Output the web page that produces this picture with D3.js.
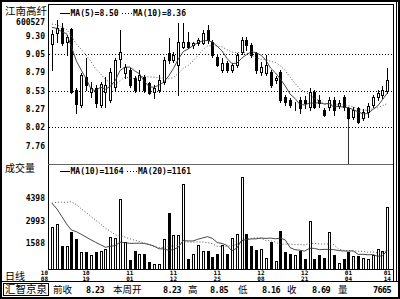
<!DOCTYPE html>
<html>
<head>
<meta charset="utf-8">
<script src="https://cdn.jsdelivr.net/npm/d3@7"></script>
<style>
  body { margin: 0; background: #fff; }
  svg { display: block; }
  text { font-family: "DejaVu Sans Mono", monospace; font-weight: bold; fill: #000; }
  text.cn { font-family: "Noto Sans CJK SC", sans-serif; font-weight: normal; }
</style>
</head>
<body>
<svg></svg>
<script>
const WIDTH = 400;
const HEIGHT = 299;

// daily bars, 2010-10-08 .. 2011-01-14
const open = [9.19, 9.35, 9.41, 9.22, 9.40, 8.54, 8.33, 8.73, 8.52, 8.57,
  8.33, 8.52, 8.40, 8.59, 8.98, 8.78, 8.83, 8.71, 8.68, 8.73,
  8.64, 8.52, 8.54, 8.66, 9.06, 8.97, 8.90, 9.15, 9.22, 9.18,
  9.20, 9.20, 9.39, 9.22, 9.01, 8.83, 8.92, 8.83, 8.90, 9.08,
  9.25, 9.18, 9.06, 8.80, 8.78, 8.80, 8.69, 8.80, 8.45, 8.40,
  8.30, 8.40, 8.40, 8.31, 8.52, 8.40, 8.26, 8.31, 8.40, 8.32,
  8.45, 8.29, 8.17, 8.29, 8.15, 8.23, 8.33, 8.44, 8.47, 8.53];
const high = [9.39, 9.53, 9.48, 9.32, 9.42, 8.57, 8.79, 8.99, 8.66, 8.61,
  8.66, 8.73, 8.85, 9.00, 9.39, 8.91, 8.86, 8.74, 8.83, 8.76,
  8.66, 8.61, 8.76, 9.01, 9.28, 9.08, 9.49, 9.49, 9.36, 9.22,
  9.27, 9.39, 9.46, 9.25, 9.04, 8.99, 8.95, 8.92, 9.06, 9.29,
  9.29, 9.20, 9.08, 8.94, 9.04, 8.83, 8.74, 8.83, 8.47, 8.43,
  8.38, 8.45, 8.46, 8.57, 8.54, 8.47, 8.29, 8.45, 8.45, 8.40,
  8.47, 8.31, 8.31, 8.31, 8.28, 8.36, 8.47, 8.55, 8.60, 8.85];
const low = [8.83, 9.22, 9.18, 9.04, 8.50, 8.22, 8.30, 8.54, 8.45, 8.31,
  8.31, 8.31, 8.38, 8.54, 8.87, 8.71, 8.58, 8.52, 8.54, 8.52,
  8.49, 8.43, 8.52, 8.63, 8.92, 8.94, 8.47, 9.13, 9.13, 9.13,
  9.17, 9.19, 9.20, 9.01, 8.88, 8.80, 8.80, 8.80, 8.87, 9.05,
  9.11, 9.01, 8.78, 8.76, 8.76, 8.59, 8.64, 8.38, 8.33, 8.31,
  8.26, 8.22, 8.29, 8.26, 8.29, 8.31, 8.18, 8.26, 8.19, 8.29,
  8.26, 8.13, 8.14, 8.08, 8.12, 8.16, 8.30, 8.40, 8.43, 8.50];
const close = [9.33, 9.41, 9.20, 9.29, 8.52, 8.35, 8.76, 8.61, 8.57, 8.36,
  8.63, 8.61, 8.80, 8.97, 9.08, 8.87, 8.61, 8.54, 8.76, 8.54,
  8.50, 8.57, 8.69, 8.97, 8.97, 9.04, 9.22, 9.22, 9.15, 9.20,
  9.25, 9.35, 9.25, 9.04, 8.90, 8.92, 8.83, 8.90, 9.04, 9.25,
  9.18, 9.04, 8.83, 8.87, 8.90, 8.61, 8.71, 8.40, 8.38, 8.33,
  8.31, 8.29, 8.36, 8.52, 8.31, 8.36, 8.19, 8.40, 8.26, 8.36,
  8.31, 8.15, 8.26, 8.10, 8.23, 8.32, 8.44, 8.50, 8.55, 8.69];
const volume = [2600, 2800, 1440, 1440, 2300, 1900, 1060, 1090, 870, 1090,
  1120, 1250, 2020, 1930, 4370, 1700, 560, 1120, 930, 930,
  440, 310, 310, 1870, 3490, 2100, 2120, 5300, 620, 930,
  1500, 1120, 1120, 770, 930, 1500, 930, 1950, 2180, 5740,
  2180, 1450, 1190, 1250, 710, 1700, 500, 2370, 1040, 930,
  900, 1120, 650, 3000, 650, 900, 700, 2300, 900, 400,
  620, 1040, 810, 810, 690, 600, 850, 1250, 1105, 3860];

// bars before the window, only used to start the moving averages
const priorClose = [9.50, 9.55, 9.58, 9.50, 9.45, 9.48, 9.44, 9.42, 9.45];
const priorVolume = [1400, 1500, 1600, 1500, 5500, 6200, 5800, 5600, 6000, 5900,
  6300, 6100, 6200, 6080, 2900, 2700, 2800, 2600, 2720];

const priceTicks = [9.30, 9.05, 8.79, 8.53, 8.27, 8.02, 7.76];
const priceGrid = [9.05, 8.53, 8.02];
const volumeTicks = [4398, 2993, 1588];
const dateTickIndex = [0, 7, 16, 25, 34, 43, 52, 61, 69];
const dateTickLabels = ['10/08', '10/19', '11/01', '11/12', '11/25', '12/08', '12/21', '01/04', '01/14'];
const yearStartIndex = 61;

const priceLegend = ['MA(5)=8.50', 'MA(10)=8.36'];
const volumeLegend = ['MA(10)=1164', 'MA(20)=1161'];
const statusNames = ['前收', '本周开', '高', '低', '收', '量'];
const statusValues = ['8.23', '8.23', '8.85', '8.16', '8.69', '7665'];

const L = 48, R = 393, PT = 4, PB = 164, VB = 269;

const svg = d3.select('svg').attr('width', WIDTH).attr('height', HEIGHT);

const x = d3.scaleLinear().domain([0, close.length - 1]).range([52, 387.3]);
const yP = d3.scaleLinear().domain([8.02, 9.05]).range([127.3, 54]);
const yV = d3.scaleLinear().domain([0, 4398]).range([VB, 198.5]);

function movingAvg(prior, vals, n) {
  const all = prior.concat(vals);
  const off = prior.length;
  return vals.map((v, i) => d3.mean(all.slice(Math.max(0, i + off - n + 1), i + off + 1)));
}
const ma5 = movingAvg(priorClose, close, 5);
const ma10 = movingAvg(priorClose, close, 10);
const vma10 = movingAvg(priorVolume, volume, 10);
const vma20 = movingAvg(priorVolume, volume, 20);

const defs = svg.append('defs');
defs.append('clipPath').attr('id', 'clipP')
  .append('rect').attr('x', L + 1).attr('y', PT + 1).attr('width', R - L - 1).attr('height', PB - PT - 1);
defs.append('clipPath').attr('id', 'clipV')
  .append('rect').attr('x', L + 1).attr('y', PB + 1).attr('width', R - L - 1).attr('height', VB - PB - 1);

// frame
svg.append('rect').attr('x', 1).attr('y', 1).attr('width', 398).attr('height', 297)
  .attr('fill', 'none').attr('stroke', '#000').attr('stroke-width', 2);
const frame = svg.append('g').attr('stroke', '#000').attr('shape-rendering', 'crispEdges');
frame.append('line').attr('x1', L + 0.5).attr('x2', L + 0.5).attr('y1', PT).attr('y2', VB);
frame.append('line').attr('x1', L).attr('x2', R + 1).attr('y1', PT + 0.5).attr('y2', PT + 0.5);
frame.append('line').attr('x1', L).attr('x2', R).attr('y1', PB + 0.5).attr('y2', PB + 0.5).attr('stroke', '#666');
frame.append('line').attr('x1', L).attr('x2', R).attr('y1', VB + 0.5).attr('y2', VB + 0.5);
frame.append('line').attr('x1', R + 0.5).attr('x2', R + 0.5).attr('y1', PT).attr('y2', 282);
frame.append('line').attr('x1', R + 3.5).attr('x2', R + 3.5).attr('y1', 2).attr('y2', 282);
frame.append('line').attr('x1', 0).attr('x2', WIDTH).attr('y1', 281.5).attr('y2', 281.5);
frame.append('rect').attr('x', 3.5).attr('y', 283.5).attr('width', 45).attr('height', 12).attr('fill', 'none');

// grid
svg.append('g').selectAll('line').data(priceGrid).join('line')
  .attr('x1', L + 1).attr('x2', R)
  .attr('y1', d => Math.round(yP(d)) + 0.5).attr('y2', d => Math.round(yP(d)) + 0.5)
  .attr('stroke', '#000').attr('stroke-dasharray', '1,2').attr('shape-rendering', 'crispEdges');

// axis labels
svg.append('g').selectAll('text').data(priceTicks).join('text')
  .attr('x', 45).attr('y', d => yP(d)).attr('dy', '0.35em').attr('text-anchor', 'end')
  .attr('font-size', 8).text(d => d.toFixed(2));
svg.append('g').selectAll('text').data(volumeTicks).join('text')
  .attr('x', 45).attr('y', d => yV(d)).attr('dy', '0.35em').attr('text-anchor', 'end')
  .attr('font-size', 8).text(d => d);

svg.append('text').attr('class', 'cn').attr('x', 5).attr('y', 15).attr('font-size', 10.5).text('江南高纤');
svg.append('text').attr('x', 45).attr('y', 24.5).attr('text-anchor', 'end').attr('font-size', 8).text('600527');
svg.append('text').attr('class', 'cn').attr('x', 5).attr('y', 172).attr('font-size', 10).text('成交量');
svg.append('text').attr('class', 'cn').attr('x', 5).attr('y', 279.5).attr('font-size', 10).text('日线');

// legends
function legend(yy, labels, xs) {
  const g = svg.append('g');
  g.append('line').attr('x1', xs[0]).attr('x2', xs[0] + 10).attr('y1', yy + 0.5).attr('y2', yy + 0.5)
    .attr('stroke', '#000').attr('shape-rendering', 'crispEdges');
  g.append('text').attr('x', xs[0] + 10.5).attr('y', yy + 3).attr('font-size', 8).text(labels[0]);
  g.append('line').attr('x1', xs[1]).attr('x2', xs[1] + 10).attr('y1', yy + 0.5).attr('y2', yy + 0.5)
    .attr('stroke', '#000').attr('stroke-dasharray', '1,2').attr('shape-rendering', 'crispEdges');
  g.append('text').attr('x', xs[1] + 11).attr('y', yy + 3).attr('font-size', 8).text(labels[1]);
}
legend(13, priceLegend, [60, 122]);
legend(171, volumeLegend, [60, 127]);

// candles
const idx = d3.range(close.length);
const cx = i => Math.round(x(i));
const up = i => close[i] >= open[i];
const pg = svg.append('g').attr('clip-path', 'url(#clipP)').attr('shape-rendering', 'crispEdges');

pg.append('line')
  .attr('x1', cx(yearStartIndex) + 0.5).attr('x2', cx(yearStartIndex) + 0.5)
  .attr('y1', yP(low[yearStartIndex])).attr('y2', PB)
  .attr('stroke', '#333');

pg.selectAll('line.wick').data(idx).join('line').attr('class', 'wick')
  .attr('x1', i => cx(i) + 0.5).attr('x2', i => cx(i) + 0.5)
  .attr('y1', i => Math.round(yP(high[i]))).attr('y2', i => Math.round(yP(low[i])) + 1)
  .attr('stroke', '#000');

pg.selectAll('rect.body').data(idx).join('rect').attr('class', 'body')
  .attr('x', i => cx(i) - 0.5)
  .attr('y', i => Math.round(yP(Math.max(open[i], close[i]))) + 0.5)
  .attr('width', 2)
  .attr('height', i => Math.max(0, Math.round(yP(Math.min(open[i], close[i]))) - Math.round(yP(Math.max(open[i], close[i])))))
  .attr('fill', i => up(i) ? '#fff' : '#000')
  .attr('stroke', '#000');

const line = d3.line().x((d, i) => x(i));
pg.append('path').datum(ma10).attr('fill', 'none').attr('stroke', '#555').attr('stroke-dasharray', '1,2')
  .attr('shape-rendering', 'auto').attr('d', line.y(d => yP(d)));
pg.append('path').datum(ma5).attr('fill', 'none').attr('stroke', '#333').attr('stroke-width', 0.9)
  .attr('shape-rendering', 'auto').attr('d', line.y(d => yP(d)));

// volume
const vg = svg.append('g').attr('clip-path', 'url(#clipV)').attr('shape-rendering', 'crispEdges');
vg.selectAll('rect').data(idx).join('rect')
  .attr('x', i => cx(i) - 0.5)
  .attr('y', i => Math.round(yV(volume[i])) + 0.5)
  .attr('width', 2)
  .attr('height', i => VB - Math.round(yV(volume[i])))
  .attr('fill', i => up(i) ? '#fff' : '#000')
  .attr('stroke', '#000');
vg.append('path').datum(vma20).attr('fill', 'none').attr('stroke', '#555').attr('stroke-dasharray', '1,2')
  .attr('shape-rendering', 'auto').attr('d', line.y(d => yV(d)));
vg.append('path').datum(vma10).attr('fill', 'none').attr('stroke', '#333').attr('stroke-width', 0.9)
  .attr('shape-rendering', 'auto').attr('d', line.y(d => yV(d)));

// date labels: month over day
svg.append('g').selectAll('text').data(dateTickIndex).join('text')
  .attr('font-size', 6)
  .attr('text-anchor', (d, k) => k === 0 ? 'end' : 'middle')
  .each(function (d, k) {
    const parts = dateTickLabels[k].split('/');
    const xx = k === 0 ? L : x(d);
    const t = d3.select(this);
    t.append('tspan').attr('x', xx).attr('y', 274.6).text(parts[0]);
    t.append('tspan').attr('x', xx).attr('y', 280.6).text(parts[1]);
  });

// status bar
svg.append('text').attr('class', 'cn').attr('x', 5).attr('y', 293).attr('font-size', 10.5)
  .attr('textLength', 42).text('汇智京泉');
const nameX = [53, 113, 188, 238, 287, 338];
const valueX = [86, 163, 210, 262, 312, 373];
svg.append('g').selectAll('text').data(statusNames).join('text')
  .attr('class', 'cn').attr('x', (d, i) => nameX[i]).attr('y', 293).attr('font-size', 9.5).text(d => d);
svg.append('g').selectAll('text').data(statusValues).join('text')
  .attr('x', (d, i) => valueX[i]).attr('y', 292.5).attr('font-size', 8.5).attr('letter-spacing', -0.6)
  .text(d => d);
</script>
</body>
</html>
